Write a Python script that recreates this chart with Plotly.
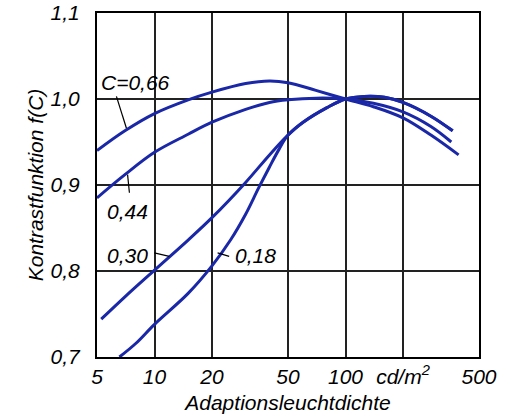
import math
import plotly.graph_objects as go

# ---- data ----
x_066 = [5, 7, 10, 15, 20, 30, 40, 50, 70, 100, 140, 200, 280, 391]
y_066 = [0.940, 0.963, 0.983, 0.999, 1.008, 1.018, 1.021, 1.019, 1.010, 1.000, 0.991, 0.978, 0.958, 0.935]

x_044 = [5, 7, 10, 15, 20, 30, 40, 50, 70, 100, 140, 200, 280, 358]
y_044 = [0.885, 0.912, 0.938, 0.959, 0.973, 0.988, 0.996, 0.999, 1.001, 1.000, 0.995, 0.985, 0.968, 0.950]

# common upper branch of C=0,30 and C=0,18
x_hi = [50, 60, 80, 100, 125, 160, 200, 280, 364]
y_hi = [0.958, 0.973, 0.990, 1.000, 1.003, 1.002, 0.996, 0.980, 0.963]

x_030 = [5.26, 7, 10, 15, 20, 30, 40] + x_hi
y_030 = [0.744, 0.770, 0.801, 0.836, 0.862, 0.903, 0.935] + y_hi

x_018 = [6.55, 8, 10, 15, 20, 25, 30, 35, 40, 45] + x_hi
y_018 = [0.700, 0.716, 0.738, 0.774, 0.806, 0.836, 0.866, 0.896, 0.921, 0.942] + y_hi

x_ticks = [5, 10, 20, 50, 100, 200, 500]
x_ticktext = ["5", "10", "20", "50", "100", "cd/m<sup>2</sup>", "500"]
y_ticks = [0.7, 0.8, 0.9, 1.0, 1.1]
y_ticktext = ["0,7", "0,8", "0,9", "1,0", "1,1"]

# curve labels: (text, x, y)
labels = [("C=0,66", 7.94, 1.019), ("0,44", 7.21, 0.869),
          ("0,30", 7.21, 0.818), ("0,18", 33.9, 0.818)]
# leader lines: ([x_start, x_end], [y_start, y_end])
leaders = [([6.32, 7.13], [1.003, 0.966]), ([7.23, 7.39], [0.912, 0.891]),
           ([9.98, 11.96], [0.821, 0.817]), ([21.4, 24.6], [0.821, 0.817])]

BLUE = "#1a28a8"
FONT = "Liberation Sans, Arial, sans-serif"
FS = 21

fig = go.Figure()
for xs, ys in [(x_066, y_066), (x_044, y_044), (x_030, y_030), (x_018, y_018)]:
    fig.add_trace(go.Scatter(x=xs, y=ys, mode="lines",
                             line=dict(color=BLUE, width=3, shape="spline", smoothing=1.0),
                             showlegend=False, hoverinfo="skip"))
for xs, ys in leaders:
    fig.add_trace(go.Scatter(x=xs, y=ys, mode="lines",
                             line=dict(color="black", width=1.2),
                             showlegend=False, hoverinfo="skip"))

annotations = []
for t, x, y in labels:
    annotations.append(dict(x=math.log10(x), y=y, xref="x", yref="y", text=t,
                            showarrow=False, xanchor="center", yanchor="middle",
                            font=dict(family=FONT, size=FS, color="black", style="italic")))

fig.update_layout(
    width=505, height=416,
    margin=dict(l=97, r=26, t=13, b=59),
    paper_bgcolor="white", plot_bgcolor="white",
    font=dict(family=FONT, size=FS, color="black", style="italic"),
    annotations=annotations,
)
fig.update_xaxes(type="log", range=[math.log10(5), math.log10(500)],
                 tickvals=x_ticks, ticktext=x_ticktext, ticks="",
                 showgrid=True, gridcolor="#222222", gridwidth=1.5,
                 showline=True, linecolor="black", linewidth=2, mirror=True,
                 zeroline=False, ticklabelstandoff=0, automargin=False,
                 ticklabeloverflow="allow",
                 tickfont=dict(family=FONT, size=FS, style="italic"),
                 title=dict(text="Adaptionsleuchtdichte", standoff=8,
                            font=dict(family=FONT, size=FS, style="italic")))
fig.update_yaxes(range=[0.7, 1.1], tickvals=y_ticks, ticktext=y_ticktext, ticks="",
                 showgrid=True, gridcolor="#222222", gridwidth=1.5,
                 showline=True, linecolor="black", linewidth=2, mirror=True,
                 zeroline=False, ticklabelstandoff=11, automargin=False,
                 ticklabeloverflow="allow",
                 tickfont=dict(family=FONT, size=FS, style="italic"),
                 title=dict(text="Kontrastfunktion f(C)", standoff=1,
                            font=dict(family=FONT, size=FS, style="italic")))

# remove the default 8 px body margin so the figure fills the window exactly
fig.write_html("out.html", config={"displayModeBar": False},
               post_script="document.body.style.margin='0px';")
